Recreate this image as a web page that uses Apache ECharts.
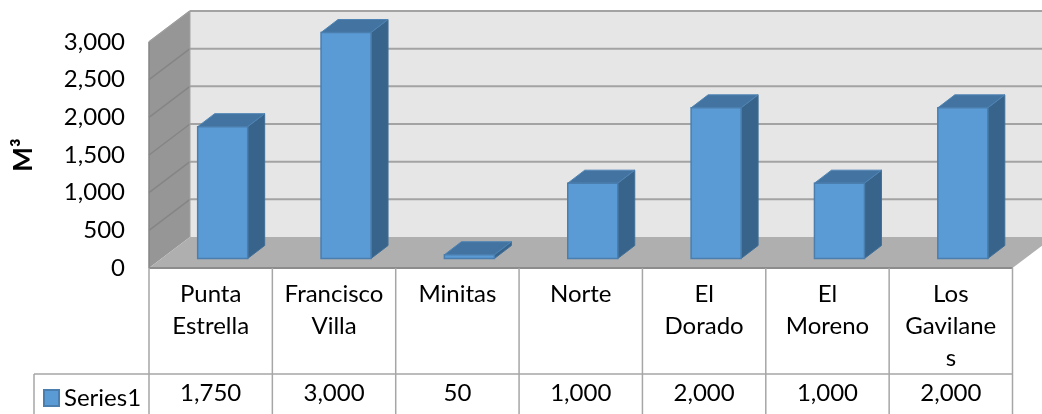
<!DOCTYPE html>
<html><head><meta charset="utf-8">
<style>html,body{margin:0;padding:0;background:#fff;overflow:hidden}#c{width:1042px;height:414px}</style>
<script src="https://cdn.jsdelivr.net/npm/echarts@6/dist/echarts.min.js"></script>
</head><body><div id="c"></div>
<script>
const categories = ['Punta\nEstrella','Francisco\nVilla','Minitas','Norte','El\nDorado','El\nMoreno','Los\nGavilane\ns'];
const seriesName = 'Series1';
const values = [1750,3000,50,1000,2000,1000,2000];
const gridTicks = [0,500,1000,1500,2000,2500,3000];
const axisTitle = 'M³';
const FONT = 'Lato';
const FS = 24;
const fmt = v => v.toLocaleString('en-US');
const D = {wallX:41, wallY:-31, gapX:12, gapY:-9.5, depthX:17, depthY:-13, barW:50, tableBottom:420, rowY:374, rowTextY:393, legendLeft:34};
const chart = echarts.init(document.getElementById('c'));

function poly(pts, fill, stroke, lw){
  return {type:'polygon', shape:{points:pts}, style:{fill:fill, stroke:stroke||null, lineWidth:lw||0}, silent:true};
}
function line(a,b,stroke,lw){
  return {type:'line', shape:{x1:a[0],y1:a[1],x2:b[0],y2:b[1]}, style:{stroke:stroke, lineWidth:lw}, silent:true};
}
function renderWalls(params, api){
  const cs = params.coordSys, L = cs.x, R = cs.x+cs.width;
  const y0 = api.coord([0,0])[1], yT = api.coord([0,3000])[1];
  const dx = D.wallX, dy = D.wallY;
  const ch = [];
  ch.push(poly([[L+dx,yT+dy],[R+dx,yT+dy],[R+dx,y0+dy],[L+dx,y0+dy]],'#e6e6e6'));
  ch.push(poly([[L,yT],[L+dx,yT+dy],[L+dx,y0+dy],[L,y0]],'#969696'));
  gridTicks.forEach(v=>{
    const y = api.coord([0,v])[1];
    if(v>0){
      ch.push(line([L+dx,y+dy],[R+dx,y+dy],'#a3a3a3',2));
      ch.push(line([L,y],[L+dx,y+dy],'#858585',1.5));
    }
  });
  ch.push(line([L,yT],[L,y0],'#858585',1.5));
  ch.push(line([L,yT],[L+dx,yT+dy],'#a0a0a0',1.5));
  ch.push(line([L+dx,yT+dy],[L+dx,y0+dy],'#a3a3a3',1));
  ch.push(poly([[L,y0],[L+dx,y0+dy],[R+dx,y0+dy],[R,y0]],'#afafaf'));
  ch.push(line([L,y0],[R,y0],'#8c8c8c',2));
  return {type:'group', children:ch};
}
function renderBar(params, api){
  const i = api.value(0), v = api.value(1);
  const c = api.coord([i,v]), b = api.coord([i,0]);
  const xl = c[0]-D.barW/2+D.gapX, xr = xl+D.barW;
  const yt = c[1]+D.gapY, yb = b[1]+D.gapY;
  const dx = D.depthX, dy = D.depthY;
  return {type:'group', children:[
    poly([[xr,yt],[xr+dx,yt+dy],[xr+dx,yb+dy],[xr,yb]],'#38648b','#3f6f99',1),
    poly([[xl,yt],[xl+dx,yt+dy],[xr+dx,yt+dy],[xr,yt]],'#4374a1','#4f85b5',1),
    poly([[xl,yt],[xr,yt],[xr,yb],[xl,yb]],'#5b9bd5','#4a7eae',1.5)
  ]};
}
function renderTable(params, api){
  const cs = params.coordSys, y0 = api.coord([0,0])[1];
  const i = api.value(0), bw = api.size([1,0])[0];
  const cx = api.coord([i,0])[0], xr = cx+bw/2;
  const ch = [];
  if(i===0){
    const xl = cx-bw/2;
    ch.push(line([xl,y0],[xl,D.tableBottom],'#a6a6a6',1.5));
    ch.push(line([D.legendLeft,D.rowY],[cs.x+cs.width,D.rowY],'#a6a6a6',1.5));
    ch.push(line([D.legendLeft,D.rowY],[D.legendLeft,D.tableBottom],'#a6a6a6',1.5));
  }
  ch.push(line([xr,y0],[xr,D.tableBottom],'#a6a6a6',1.5));
  ch.push({type:'text', style:{text:fmt(api.value(1)), x:cx, y:D.rowTextY, align:'center', verticalAlign:'middle', font:FS+'px '+FONT, fill:'#000'}, silent:true});
  return {type:'group', children:ch};
}
const rows = values.map((v,i)=>[i,v]);
chart.setOption({
  animation:false,
  backgroundColor:'#fff',
  grid:{left:149,right:29.5,top:42,height:226},
  legend:{data:[seriesName], left:43, top:386, padding:0, itemWidth:15, itemHeight:16, icon:'rect',
    textStyle:{fontFamily:FONT,fontSize:FS,lineHeight:16,color:'#000'}, selectedMode:false},
  xAxis:{type:'category', data:categories, axisLine:{show:false}, axisTick:{show:false},
    axisLabel:{interval:0, margin:10, lineHeight:32, fontFamily:FONT, fontSize:FS, color:'#000'}},
  yAxis:{type:'value', min:0, max:3000, interval:500, name:axisTitle, nameLocation:'middle', nameGap:112,
    nameTextStyle:{fontFamily:FONT,fontSize:26,fontWeight:'bold',color:'#000'},
    axisLine:{show:false}, axisTick:{show:false}, splitLine:{show:false},
    axisLabel:{margin:24, fontFamily:FONT, fontSize:FS, color:'#000', formatter:fmt, padding:[5,0,0,0]}},
  series:[
    {type:'custom', name:'walls', renderItem:renderWalls, data:[[0,0]], silent:true, z:1, clip:false},
    {type:'custom', name:'table', renderItem:renderTable, data:rows, silent:true, z:2, clip:false, encode:{x:0,y:1}},
    {type:'custom', name:seriesName, renderItem:renderBar, data:rows, silent:true, z:3, clip:false, encode:{x:0,y:1},
      itemStyle:{color:'#5b9bd5', borderColor:'#4a7eae', borderWidth:1}}
  ]
});
</script></body></html>
